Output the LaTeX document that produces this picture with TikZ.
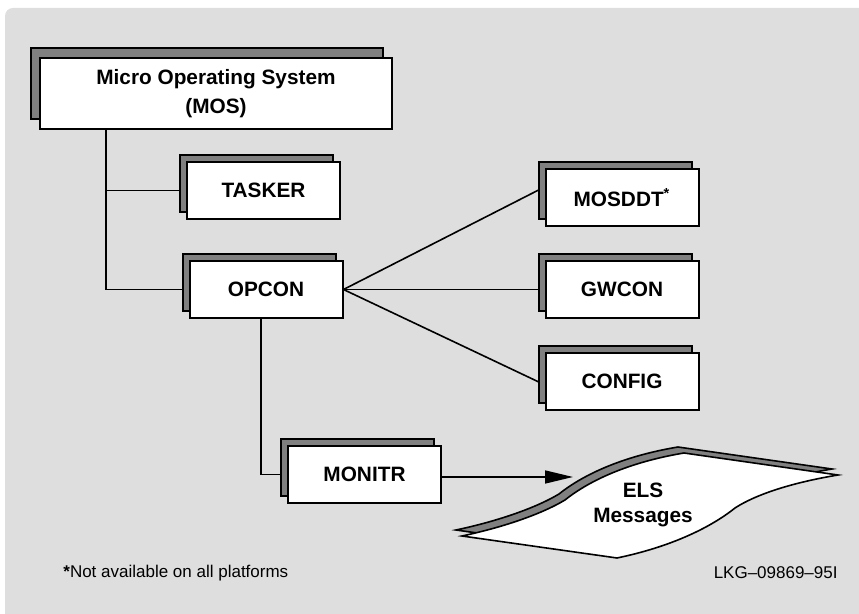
\documentclass[tikz,border=0pt]{standalone}
\usepackage{fontspec}
\setmainfont{Liberation Sans}
\usepackage{xcolor}
\usetikzlibrary{arrows.meta, positioning, shadows}
\definecolor{panel}{HTML}{DEDEDE}
\definecolor{shade}{HTML}{808080}
\pgfdeclarelayer{panel}
\pgfdeclarelayer{wires}
\pgfsetlayers{panel,wires,main}

\begin{document}
\begin{tikzpicture}[
    x=0.5pt, y=-0.5pt,
    node distance=16.5pt and 100.5pt,
    every node/.style={font=\fontsize{10.4}{14.5}\selectfont\bfseries},
    module/.style={draw, fill=white, line width=1pt, align=center,
      minimum width=76.5pt, minimum height=28.5pt, inner sep=2pt,
      copy shadow={shadow xshift=-#1, shadow yshift=#1,
        fill=shade, draw=black, line width=1pt}},
    module/.default=3.5pt,
    wire/.style={line width=0.8pt},
    arr/.style={wire, -{Triangle[length=14pt, width=6.5pt]}},
    note/.style={font=\fontsize{8.5}{10}\selectfont, inner sep=0pt}
  ]
  \useasboundingbox (0,0) rectangle (859,614);
  \begin{pgfonlayer}{panel}
    \fill[panel, rounded corners=4pt] (5,8) rectangle (880,640);
  \end{pgfonlayer}

  \node[module=4.75pt, minimum width=176pt, minimum height=35.5pt] (mos) at (216,93.5)
    {Micro Operating System\\(MOS)};
  \node[module] (tasker) at (263.5,190.5) {TASKER};
  \node[module, below=20pt of tasker, xshift=1.25pt] (opcon) {OPCON};
  \node[module, right=of opcon] (gwcon) {GWCON};
  \node[module, above=of gwcon] (mosddt) {MOSDDT\textsuperscript{*}};
  \node[module, below=of gwcon] (config) {CONFIG};
  \node[module] (monitr) at (364.5,474.5) {MONITR};

  \begin{pgfonlayer}{wires}
    \coordinate (trunk) at ([xshift=33.5pt]mos.south west);
    \draw[wire] (trunk) |- (opcon.west);
    \draw[wire] (trunk |- tasker.west) -- (tasker.west);
    \draw[wire] (opcon.east) -- ([yshift=5.25pt]mosddt.west);
    \draw[wire] (opcon.east) -- (gwcon.west);
    \draw[wire] (opcon.east) -- ([yshift=-1.6pt]config.west);
    \draw[wire] ([xshift=-2.5pt]opcon.south) |- (monitr.west);
  \end{pgfonlayer}

  % ELS sheet, shadow first
  \foreach \dd/\col in {-6/shade, 0/white}
    \filldraw[fill=\col, draw=black, line width=0.8pt, shift={(\dd,\dd)}]
      (462,536) .. controls (500,528) and (540,515) .. (565,500)
      .. controls (590,480) and (630,462) .. (684,453) -- (838,475)
      .. controls (790,483) and (755,495) .. (735,508)
      .. controls (710,528) and (670,547) .. (617,558) -- cycle;
  \node[align=center, font=\fontsize{10.4}{12.5}\selectfont\bfseries] (els) at (643,505) {ELS\\Messages};
  \coordinate (inbox) at (573,477);
  \draw[arr] (monitr.east |- inbox) -- (inbox);

  \node[note, anchor=west] (fn) at (63,573) {{\bfseries *}Not available on all platforms};
  \node[note, anchor=east] (tag) at (838,573) {LKG–09869–95I};
\end{tikzpicture}
\end{document}
